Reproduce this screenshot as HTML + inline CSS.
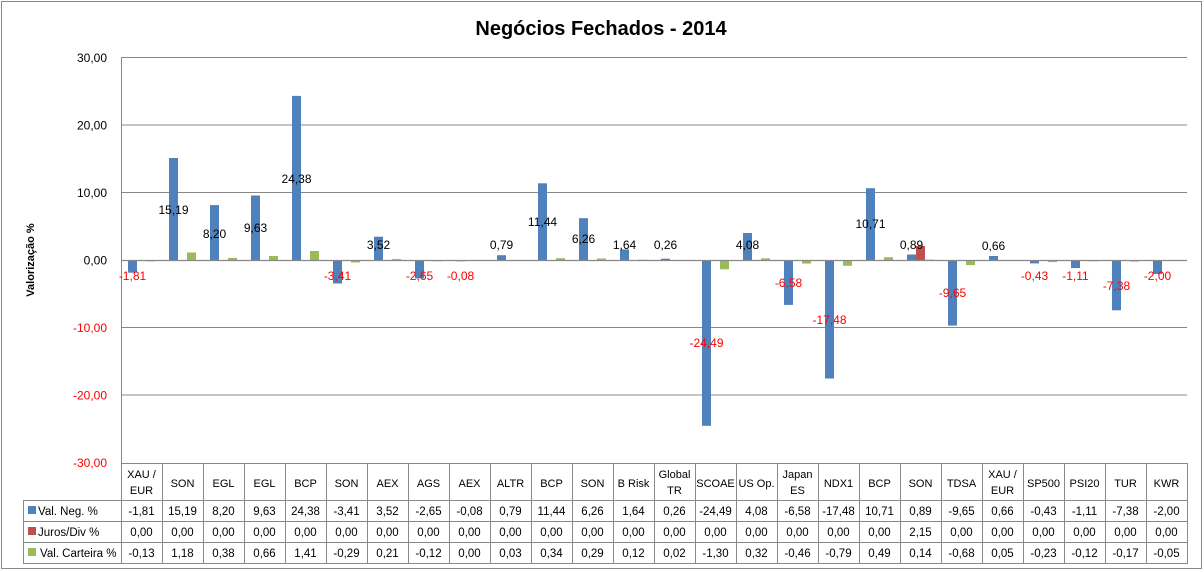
<!DOCTYPE html>
<html><head><meta charset="utf-8"><style>
html,body{margin:0;padding:0;background:#fff;}
svg{display:block;font-family:"Liberation Sans",sans-serif;}
</style></head><body>
<svg width="1204" height="572" viewBox="0 0 1204 572" xmlns="http://www.w3.org/2000/svg">
<rect x="1.5" y="1.5" width="1200" height="567" fill="#fff" stroke="#888" stroke-width="1"/>
<text x="601" y="35" text-anchor="middle" font-size="20" font-weight="bold">Negócios Fechados - 2014</text>
<text transform="translate(34,260) rotate(-90)" text-anchor="middle" font-size="11" font-weight="bold">Valorização %</text>
<!-- grid -->
<g stroke="#888" stroke-width="1">
<line x1="121" y1="57.5" x2="1187" y2="57.5"/>
<line x1="121" y1="125" x2="1187" y2="125"/>
<line x1="121" y1="192.5" x2="1187" y2="192.5"/>
<line x1="121" y1="327.5" x2="1187" y2="327.5"/>
<line x1="121" y1="395" x2="1187" y2="395"/>
<line x1="121.5" y1="57" x2="121.5" y2="464"/>
</g>
<g font-size="12" text-anchor="end">
<text x="107" y="62">30,00</text>
<text x="107" y="129.5">20,00</text>
<text x="107" y="197">10,00</text>
<text x="107" y="264.5">0,00</text>
<text x="107" y="332" fill="#f00">-10,00</text>
<text x="107" y="399.5" fill="#f00">-20,00</text>
<text x="107" y="467" fill="#f00">-30,00</text>
</g>
<!-- blue bars -->
<g fill="#4f81bd">
<rect x="128" y="260.5" width="9" height="12.2"/>
<rect x="169" y="158" width="9" height="102.5"/>
<rect x="210" y="205.1" width="9" height="55.4"/>
<rect x="251" y="195.5" width="9" height="65"/>
<rect x="292" y="95.9" width="9" height="164.6"/>
<rect x="333" y="260.5" width="9" height="23"/>
<rect x="374" y="236.7" width="9" height="23.8"/>
<rect x="415" y="260.5" width="9" height="17.9"/>
<rect x="456" y="260.5" width="9" height="0.8"/>
<rect x="497" y="255.2" width="9" height="5.3"/>
<rect x="538" y="183.3" width="9" height="77.2"/>
<rect x="579" y="218.2" width="9" height="42.3"/>
<rect x="620" y="249.4" width="9" height="11.1"/>
<rect x="661" y="258.7" width="9" height="1.8"/>
<rect x="702" y="260.5" width="9" height="165.3"/>
<rect x="743" y="233" width="9" height="27.5"/>
<rect x="784" y="260.5" width="9" height="44.4"/>
<rect x="825" y="260.5" width="9" height="118"/>
<rect x="866" y="188.2" width="9" height="72.3"/>
<rect x="907" y="254.5" width="9" height="6"/>
<rect x="948" y="260.5" width="9" height="65.1"/>
<rect x="989" y="256" width="9" height="4.5"/>
<rect x="1030" y="260.5" width="9" height="2.9"/>
<rect x="1071" y="260.5" width="9" height="7.5"/>
<rect x="1112" y="260.5" width="9" height="49.8"/>
<rect x="1153" y="260.5" width="9" height="13.5"/>
</g>
<rect x="916" y="246" width="9" height="14.5" fill="#c0504d"/>
<!-- green bars -->
<g fill="#9bbb59">
<rect x="146" y="260.5" width="9" height="0.9"/>
<rect x="187" y="252.5" width="9" height="8"/>
<rect x="228" y="257.9" width="9" height="2.6"/>
<rect x="269" y="256" width="9" height="4.5"/>
<rect x="310" y="251" width="9" height="9.5"/>
<rect x="351" y="260.5" width="9" height="2"/>
<rect x="392" y="259.1" width="9" height="1.4"/>
<rect x="433" y="260.5" width="9" height="0.8"/>
<rect x="515" y="260.3" width="9" height="0.4"/>
<rect x="556" y="258.2" width="9" height="2.3"/>
<rect x="597" y="258.5" width="9" height="2"/>
<rect x="638" y="259.7" width="9" height="0.8"/>
<rect x="679" y="260.3" width="9" height="0.4"/>
<rect x="720" y="260.5" width="9" height="8.8"/>
<rect x="761" y="258.3" width="9" height="2.2"/>
<rect x="802" y="260.5" width="9" height="3.1"/>
<rect x="843" y="260.5" width="9" height="5.3"/>
<rect x="884" y="257.2" width="9" height="3.3"/>
<rect x="925" y="259.6" width="9" height="0.9"/>
<rect x="966" y="260.5" width="9" height="4.6"/>
<rect x="1007" y="260.2" width="9" height="0.4"/>
<rect x="1048" y="260.5" width="9" height="1.6"/>
<rect x="1089" y="260.5" width="9" height="0.8"/>
<rect x="1130" y="260.5" width="9" height="1.1"/>
<rect x="1171" y="260.5" width="9" height="0.4"/>
</g>
<line x1="121" y1="260.5" x2="1187" y2="260.5" stroke="#888" stroke-width="1.2"/>
<!-- data labels -->
<g font-size="12" text-anchor="middle">
<text x="132.5" y="280" fill="#f00">-1,81</text>
<text x="173.5" y="214">15,19</text>
<text x="214.5" y="238">8,20</text>
<text x="255.5" y="232">9,63</text>
<text x="296.5" y="183">24,38</text>
<text x="337.5" y="280" fill="#f00">-3,41</text>
<text x="378.5" y="249">3,52</text>
<text x="419.5" y="280" fill="#f00">-2,65</text>
<text x="460.5" y="280" fill="#f00">-0,08</text>
<text x="501.5" y="249">0,79</text>
<text x="542.5" y="226">11,44</text>
<text x="583.5" y="243">6,26</text>
<text x="624.5" y="249">1,64</text>
<text x="665.5" y="249">0,26</text>
<text x="706.5" y="347" fill="#f00">-24,49</text>
<text x="747.5" y="249">4,08</text>
<text x="788.5" y="287" fill="#f00">-6,58</text>
<text x="829.5" y="324" fill="#f00">-17,48</text>
<text x="870.5" y="228">10,71</text>
<text x="911.5" y="249">0,89</text>
<text x="952.5" y="297" fill="#f00">-9,65</text>
<text x="993.5" y="250">0,66</text>
<text x="1034.5" y="280" fill="#f00">-0,43</text>
<text x="1075.5" y="280" fill="#f00">-1,11</text>
<text x="1116.5" y="290" fill="#f00">-7,38</text>
<text x="1157.5" y="280" fill="#f00">-2,00</text>
</g>
<!-- table -->
<g stroke="#888" stroke-width="1" fill="none">
<line x1="121" y1="463.5" x2="1188" y2="463.5"/>
<line x1="23" y1="500.5" x2="1188" y2="500.5"/>
<line x1="23" y1="521.5" x2="1188" y2="521.5"/>
<line x1="23" y1="542.5" x2="1188" y2="542.5"/>
<line x1="23" y1="563.5" x2="1188" y2="563.5"/>
<line x1="23.5" y1="500" x2="23.5" y2="564"/>
<path d="M121.5 463V564M162.5 463V564M203.5 463V564M244.5 463V564M285.5 463V564M326.5 463V564M367.5 463V564M408.5 463V564M449.5 463V564M490.5 463V564M531.5 463V564M572.5 463V564M613.5 463V564M654.5 463V564M695.5 463V564M736.5 463V564M777.5 463V564M818.5 463V564M859.5 463V564M900.5 463V564M941.5 463V564M982.5 463V564M1023.5 463V564M1064.5 463V564M1105.5 463V564M1146.5 463V564M1187.5 463V564"/>
</g>
<rect x="28" y="506" width="8" height="8" fill="#4f81bd"/>
<rect x="28" y="527" width="8" height="8" fill="#c0504d"/>
<rect x="28" y="548" width="8" height="8" fill="#9bbb59"/>
<g font-size="11.5">
<text x="38" y="515">Val. Neg. %</text>
<text x="38" y="536">Juros/Div %</text>
<text x="40" y="557">Val. Carteira %</text>
</g>
<g font-size="11" text-anchor="middle">
<text x="141.5" y="478">XAU /</text><text x="141.5" y="494">EUR</text>
<text x="182.5" y="487">SON</text>
<text x="223.5" y="487">EGL</text>
<text x="264.5" y="487">EGL</text>
<text x="305.5" y="487">BCP</text>
<text x="346.5" y="487">SON</text>
<text x="387.5" y="487">AEX</text>
<text x="428.5" y="487">AGS</text>
<text x="469.5" y="487">AEX</text>
<text x="510.5" y="487">ALTR</text>
<text x="551.5" y="487">BCP</text>
<text x="592.5" y="487">SON</text>
<text x="633.5" y="487">B Risk</text>
<text x="674.5" y="478">Global</text><text x="674.5" y="494">TR</text>
<text x="715.5" y="487">SCOAE</text>
<text x="756.5" y="487">US Op.</text>
<text x="797.5" y="478">Japan</text><text x="797.5" y="494">ES</text>
<text x="838.5" y="487">NDX1</text>
<text x="879.5" y="487">BCP</text>
<text x="920.5" y="487">SON</text>
<text x="961.5" y="487">TDSA</text>
<text x="1002.5" y="478">XAU /</text><text x="1002.5" y="494">EUR</text>
<text x="1043.5" y="487">SP500</text>
<text x="1084.5" y="487">PSI20</text>
<text x="1125.5" y="487">TUR</text>
<text x="1166.5" y="487">KWR</text>
</g>
<g font-size="11.5" text-anchor="middle">
<text x="141.5" y="515">-1,81</text><text x="182.5" y="515">15,19</text><text x="223.5" y="515">8,20</text><text x="264.5" y="515">9,63</text><text x="305.5" y="515">24,38</text><text x="346.5" y="515">-3,41</text><text x="387.5" y="515">3,52</text><text x="428.5" y="515">-2,65</text><text x="469.5" y="515">-0,08</text><text x="510.5" y="515">0,79</text><text x="551.5" y="515">11,44</text><text x="592.5" y="515">6,26</text><text x="633.5" y="515">1,64</text><text x="674.5" y="515">0,26</text><text x="715.5" y="515">-24,49</text><text x="756.5" y="515">4,08</text><text x="797.5" y="515">-6,58</text><text x="838.5" y="515">-17,48</text><text x="879.5" y="515">10,71</text><text x="920.5" y="515">0,89</text><text x="961.5" y="515">-9,65</text><text x="1002.5" y="515">0,66</text><text x="1043.5" y="515">-0,43</text><text x="1084.5" y="515">-1,11</text><text x="1125.5" y="515">-7,38</text><text x="1166.5" y="515">-2,00</text>
<text x="141.5" y="536">0,00</text><text x="182.5" y="536">0,00</text><text x="223.5" y="536">0,00</text><text x="264.5" y="536">0,00</text><text x="305.5" y="536">0,00</text><text x="346.5" y="536">0,00</text><text x="387.5" y="536">0,00</text><text x="428.5" y="536">0,00</text><text x="469.5" y="536">0,00</text><text x="510.5" y="536">0,00</text><text x="551.5" y="536">0,00</text><text x="592.5" y="536">0,00</text><text x="633.5" y="536">0,00</text><text x="674.5" y="536">0,00</text><text x="715.5" y="536">0,00</text><text x="756.5" y="536">0,00</text><text x="797.5" y="536">0,00</text><text x="838.5" y="536">0,00</text><text x="879.5" y="536">0,00</text><text x="920.5" y="536">2,15</text><text x="961.5" y="536">0,00</text><text x="1002.5" y="536">0,00</text><text x="1043.5" y="536">0,00</text><text x="1084.5" y="536">0,00</text><text x="1125.5" y="536">0,00</text><text x="1166.5" y="536">0,00</text>
<text x="141.5" y="557">-0,13</text><text x="182.5" y="557">1,18</text><text x="223.5" y="557">0,38</text><text x="264.5" y="557">0,66</text><text x="305.5" y="557">1,41</text><text x="346.5" y="557">-0,29</text><text x="387.5" y="557">0,21</text><text x="428.5" y="557">-0,12</text><text x="469.5" y="557">0,00</text><text x="510.5" y="557">0,03</text><text x="551.5" y="557">0,34</text><text x="592.5" y="557">0,29</text><text x="633.5" y="557">0,12</text><text x="674.5" y="557">0,02</text><text x="715.5" y="557">-1,30</text><text x="756.5" y="557">0,32</text><text x="797.5" y="557">-0,46</text><text x="838.5" y="557">-0,79</text><text x="879.5" y="557">0,49</text><text x="920.5" y="557">0,14</text><text x="961.5" y="557">-0,68</text><text x="1002.5" y="557">0,05</text><text x="1043.5" y="557">-0,23</text><text x="1084.5" y="557">-0,12</text><text x="1125.5" y="557">-0,17</text><text x="1166.5" y="557">-0,05</text>
</g>
</svg>
</body></html>
